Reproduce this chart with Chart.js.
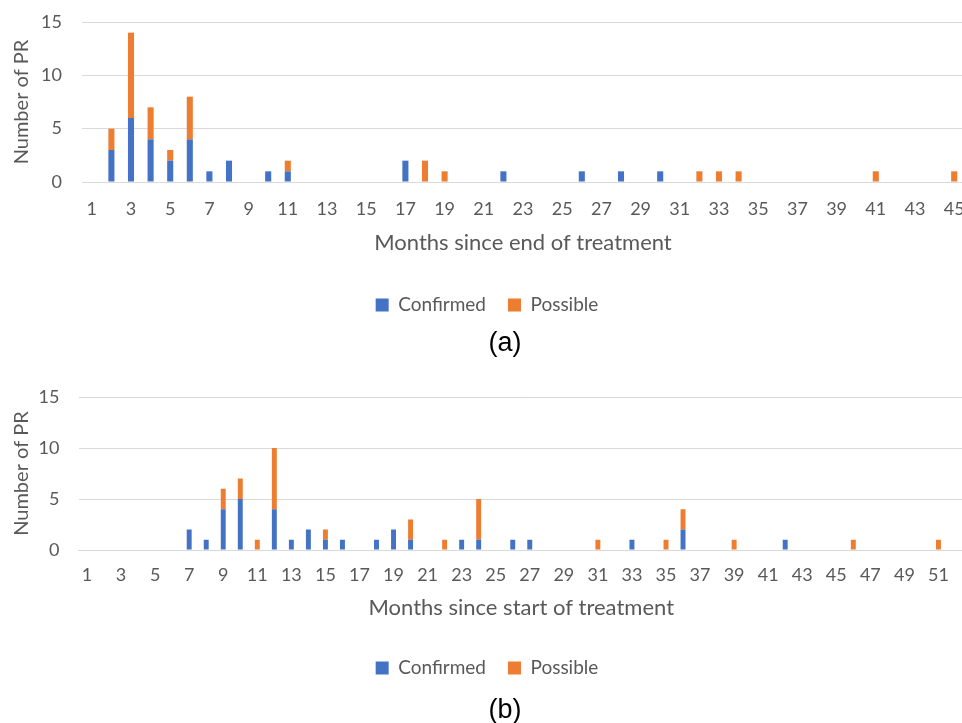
<!DOCTYPE html>
<html>
<head>
<meta charset="utf-8">
<script src="https://cdn.jsdelivr.net/npm/chart.js@4.4.1/dist/chart.umd.min.js"></script>
<style>
  html, body { margin: 0; padding: 0; background: #fff; overflow: hidden; width: 962px; height: 723px; position: relative; }
  .wrap { position: absolute; left: 0; width: 975px; }
  #wa { top: 0; height: 365px; }
  #wb { top: 365px; height: 358px; }
  .cap { position: absolute; left: 455px; width: 100px; text-align: center;
         font-family: 'Liberation Sans', Arial, sans-serif; font-size: 27px; line-height: 27px; color: #000; }
</style>
</head>
<body>
<div class="wrap" id="wa"><canvas id="ca"></canvas></div>
<div class="wrap" id="wb"><canvas id="cb"></canvas></div>
<div class="cap" style="top:329px;">(a)</div>
<div class="cap" style="top:696px;">(b)</div>
<script>
// ---- Data (a): months since end of treatment ----
const monthsA = ['1','2','3','4','5','6','7','8','9','10','11','12','13','14','15','16','17','18','19','20','21','22','23','24','25','26','27','28','29','30','31','32','33','34','35','36','37','38','39','40','41','42','43','44','45'];
const confirmedA = [0,3,6,4,2,4,1,2,0,1,1,0,0,0,0,0,2,0,0,0,0,1,0,0,0,1,0,1,0,1,0,0,0,0,0,0,0,0,0,0,0,0,0,0,0];
const possibleA  = [0,2,8,3,1,4,0,0,0,0,1,0,0,0,0,0,0,2,1,0,0,0,0,0,0,0,0,0,0,0,0,1,1,1,0,0,0,0,0,0,1,0,0,0,1];

// ---- Data (b): months since start of treatment ----
const monthsB = ['1','2','3','4','5','6','7','8','9','10','11','12','13','14','15','16','17','18','19','20','21','22','23','24','25','26','27','28','29','30','31','32','33','34','35','36','37','38','39','40','41','42','43','44','45','46','47','48','49','50','51','52'];
const confirmedB = [0,0,0,0,0,0,2,1,4,5,0,4,1,2,1,1,0,1,2,1,0,0,1,1,0,1,1,0,0,0,0,0,1,0,0,2,0,0,0,0,0,1,0,0,0,0,0,0,0,0,0,0];
const possibleB  = [0,0,0,0,0,0,0,0,2,2,1,6,0,0,1,0,0,0,0,2,0,1,0,4,0,0,0,0,0,0,1,0,0,0,1,2,0,0,1,0,0,0,0,0,0,1,0,0,0,0,1,0];

const yTicks = [0, 5, 10, 15];
const seriesNames = ['Confirmed', 'Possible'];

Chart.defaults.font.family = "Lato, 'Open Sans', sans-serif";
Chart.defaults.color = '#595959';
Chart.defaults.animation = false;

const BLUE = '#4472C4', ORANGE = '#ED7D31', GRID = '#d9d9d9', TXT = '#595959';

function makeChart(id, labels, conf, poss, xTitle, cfg) {
  return new Chart(document.getElementById(id), {
    type: 'bar',
    data: {
      labels: labels,
      datasets: [
        { label: seriesNames[0], data: conf, backgroundColor: BLUE, barPercentage: cfg.bar, categoryPercentage: 1 },
        { label: seriesNames[1], data: poss, backgroundColor: ORANGE, barPercentage: cfg.bar, categoryPercentage: 1 }
      ]
    },
    options: {
      responsive: true,
      maintainAspectRatio: false,
      layout: { padding: { top: cfg.padTop, right: 11, left: 10, bottom: cfg.padBottom } },
      scales: {
        x: {
          stacked: true,
          grid: { display: false, drawTicks: true, tickLength: cfg.xTickLen, tickColor: 'rgba(0,0,0,0)' },
          border: { display: true, color: GRID },
          ticks: {
            autoSkip: false, maxRotation: 0, minRotation: 0,
            padding: 0,
            font: { size: 18 }, color: TXT,
            callback: (v, i) => (i % 2 === 0 ? labels[i] : '')
          },
          title: { display: true, text: xTitle, font: { size: 22 }, color: TXT,
                   padding: { top: cfg.xTitleTop, bottom: cfg.xTitleBottom } }
        },
        y: {
          stacked: true,
          min: 0, max: 15,
          afterBuildTicks: (s) => { s.ticks = yTicks.map(v => ({ value: v })); },
          afterFit: (s) => { s.width = cfg.yWidth; },
          grid: { color: GRID, drawTicks: true, tickLength: cfg.yTickLen, tickColor: 'rgba(0,0,0,0)', lineWidth: 1 },
          border: { display: false },
          ticks: { padding: 3, font: { size: 18 }, color: TXT },
          title: { display: true, text: 'Number of PR', font: { size: 20 }, color: TXT, padding: { top: 0, bottom: 0 } }
        }
      },
      plugins: {
        legend: {
          position: 'bottom',
          labels: { boxWidth: 13, boxHeight: 13, padding: 22, font: { size: 19 }, color: TXT }
        },
        title: { display: false },
        tooltip: { enabled: false }
      }
    }
  });
}

makeChart('ca', monthsA, confirmedA, possibleA, 'Months since end of treatment',
  { bar: 0.31, padTop: 22, padBottom: 40.5, xTickLen: 16.2, xTitleTop: 10, xTitleBottom: 17.3, yWidth: 72, yTickLen: 17 });
makeChart('cb', monthsB, confirmedB, possibleB, 'Months since start of treatment',
  { bar: 0.29, padTop: 32, padBottom: 35.5, xTickLen: 14.2, xTitleTop: 9, xTitleBottom: 15.3, yWidth: 68.5, yTickLen: 16 });
</script>
</body>
</html>
